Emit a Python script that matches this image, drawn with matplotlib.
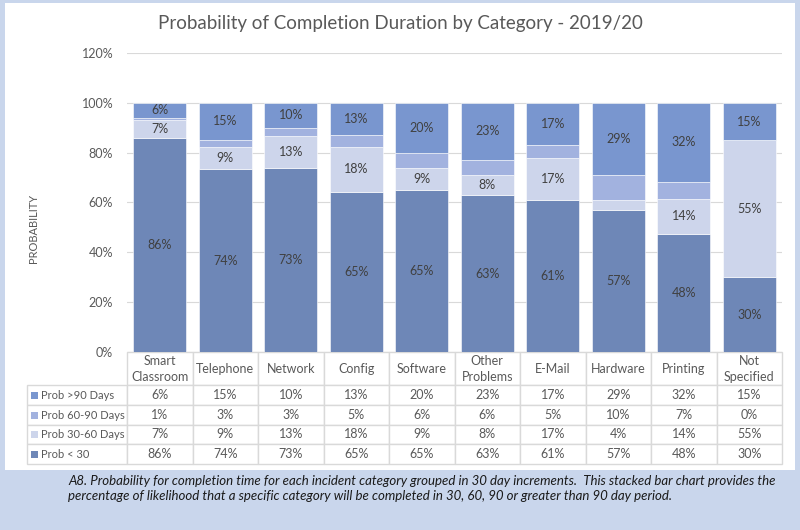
import matplotlib.pyplot as plt
import matplotlib.patches as mpatches
import numpy as np

plt.rcParams['font.family'] = ['Lato', 'DejaVu Sans']

# data
categories = ["Smart\nClassroom", "Telephone", "Network", "Config", "Software",
              "Other\nProblems", "E-Mail", "Hardware", "Printing", "Not\nSpecified"]
prob_lt30 = [86, 74, 73, 65, 65, 63, 61, 57, 48, 30]
prob_30_60 = [7, 9, 13, 18, 9, 8, 17, 4, 14, 55]
prob_60_90 = [1, 3, 3, 5, 6, 6, 5, 10, 7, 0]
prob_gt90 = [6, 15, 10, 13, 20, 23, 17, 29, 32, 15]
series_names = ["Prob >90 Days", "Prob 60-90 Days", "Prob 30-60 Days", "Prob < 30"]

col_lt30 = "#6E87B7"
col_30_60 = "#CDD5EB"
col_60_90 = "#A2B2DF"
col_gt90 = "#7996CF"
txt = "#595959"

fig = plt.figure(figsize=(8, 5.3), dpi=100)
fig.patch.set_facecolor("#C9D6EC")
# white chart panel
fig.patches.append(mpatches.Rectangle((5 / 800, 1 - 470 / 530), 790 / 800, 467 / 530,
                                      transform=fig.transFigure, facecolor="white",
                                      edgecolor="none", zorder=-10))

ax = fig.add_axes([127 / 800, 1 - 352 / 530, 655 / 800, 299 / 530])
ax.set_facecolor("white")

# the bars were drawn from unrounded values, so each column fills to 100%
arr = np.array([prob_lt30, prob_30_60, prob_60_90, prob_gt90], dtype=float)
arr = arr / arr.sum(axis=0)
x = np.arange(len(categories))
bottoms = np.zeros(len(categories))
colors = [col_lt30, col_30_60, col_60_90, col_gt90]
labelled = [prob_lt30, prob_30_60, None, prob_gt90]
for vals, c, lab in zip(arr, colors, labelled):
    ax.bar(x, vals, 0.81, bottom=bottoms, color=c, edgecolor="white", linewidth=0.4, zorder=2)
    if lab is not None:
        for xi, v, b, l in zip(x, vals, bottoms, lab):
            if l >= 5:  # thin slices carry no label in the original
                ax.text(xi, b + v / 2, f"{l}%", ha="center", va="center",
                        fontsize=9, color="#404040", zorder=3)
    bottoms += vals

ax.set_xlim(-0.5, len(categories) - 0.5)
ax.set_ylim(0, 1.2)
ticks = np.arange(0, 1.21, 0.2)
ax.set_yticks(ticks)
ax.set_yticklabels([f"{int(round(t * 100))}%" for t in ticks], fontsize=9, color=txt)
ax.tick_params(axis="y", length=0, pad=10)
ax.set_xticks([])
ax.grid(axis="y", color="#D9D9D9", linewidth=0.8, zorder=0)
for s in ax.spines.values():
    s.set_visible(False)

fig.text(33 / 800, 1 - 228 / 530, "PROBABILITY", rotation=90, ha="center", va="center",
         fontsize=8, color=txt)
fig.text(400 / 800, 1 - 23 / 530, "Probability of Completion Duration by Category - 2019/20",
         ha="center", va="center", fontsize=13.5, color=txt)

# data table under the chart
rows = [[""] + [f"{v}%" for v in s] for s in [prob_gt90, prob_60_90, prob_30_60, prob_lt30]]
tbl = ax.table(cellText=rows, colLabels=[""] + categories,
               colWidths=[100 / 755] + [65.5 / 755] * len(categories),
               cellLoc="center", bbox=[-100 / 655, -112 / 299, 755 / 655, 112 / 299])
tbl.auto_set_font_size(False)
tbl.set_fontsize(9)
for (r, c), cell in tbl.get_celld().items():
    cell.set_edgecolor("#D9D9D9")
    cell.set_linewidth(1.0)
    cell.get_text().set_color(txt)
    if r == 0:
        cell.set_height(cell.get_height() * 33 / 19.5)
        cell.get_text().set_linespacing(1.4)
    if r == 0 and c == 0:
        cell.visible_edges = "open"

row_h = 19.5
for i, (name, c) in enumerate(zip(series_names, [col_gt90, col_60_90, col_30_60, col_lt30])):
    yc = (352 - (386 + row_h * (i + 0.5))) / 299
    ax.add_patch(mpatches.Rectangle(((31 - 127) / 655, yc - 3.5 / 299), 7 / 655, 7 / 299,
                                    transform=ax.transAxes, facecolor=c, edgecolor="none",
                                    clip_on=False, zorder=5))
    ax.text((41 - 127) / 655, yc, name, transform=ax.transAxes, ha="left", va="center",
            fontsize=8, color=txt, clip_on=False, zorder=5)

caption = ("A8. Probability for completion time for each incident category grouped in 30 day increments.  "
           "This stacked bar chart provides the\npercentage of likelihood that a specific category "
           "will be completed in 30, 60, 90 or greater than 90 day period.")
fig.text(68 / 800, 1 - 475 / 530, caption, ha="left", va="top", fontsize=9.5,
         style="italic", color="#1A1A1A", linespacing=1.35)

fig.savefig("out.png", dpi=100, facecolor=fig.get_facecolor())
